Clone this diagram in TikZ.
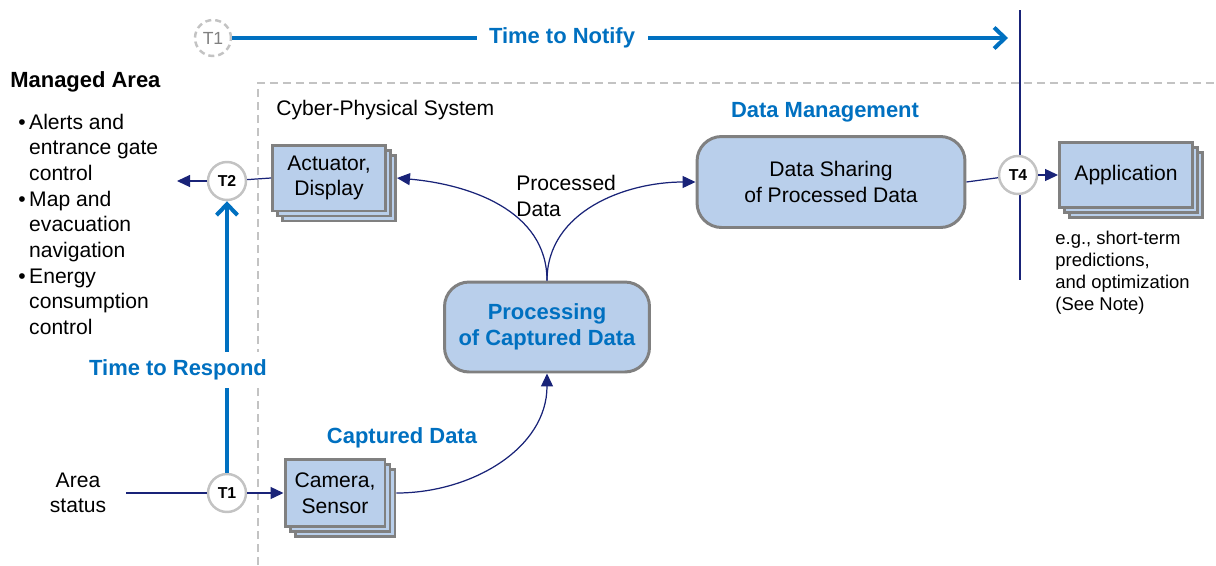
\documentclass[tikz,border=0pt]{standalone}
\usepackage{fontspec}
\setmainfont{Liberation Sans}
\usetikzlibrary{arrows.meta}
\usetikzlibrary{shadows}
\usetikzlibrary{positioning}
\definecolor{boxblue}{RGB}{185,207,235}
\definecolor{boxgray}{RGB}{128,128,128}
\definecolor{ringgray}{RGB}{195,195,195}
\definecolor{navy}{RGB}{25,35,120}
\definecolor{tblue}{RGB}{0,112,192}
\newcommand{\txt}{\fontsize{12}{14.6}\selectfont}
\tikzset{stack/.style={rectangle, fill=boxblue, draw=boxgray, line width=1.7pt,
   copy shadow={shadow xshift=0.2cm, shadow yshift=-0.2cm, fill=boxblue, draw=boxgray, line width=1.7pt},
   copy shadow={shadow xshift=0.1cm, shadow yshift=-0.1cm, fill=boxblue, draw=boxgray, line width=1.7pt},
   align=center, font=\txt, inner sep=0pt}}
\tikzset{rbox/.style={rectangle, rounded corners=14pt, fill=boxblue, draw=boxgray,
   line width=1.7pt, align=center, font=\txt, inner sep=0pt}}
\tikzset{tcirc/.style={circle, draw=ringgray, fill=white, line width=1.4pt,
   minimum size=0.76cm, inner sep=0pt, font=\bfseries\fontsize{9}{10}\selectfont}}
\tikzset{head/.style={text=tblue, font=\bfseries\fontsize{12.5}{14.6}\selectfont}}
\tikzset{flow/.style={draw=navy, line width=0.7pt, -{Triangle[length=0.26cm, width=0.24cm]}}}
\tikzset{timing/.style={draw=tblue, line width=2.3pt, -{Straight Barb[length=0.22cm, width=0.42cm]}}}

\begin{document}
\begin{tikzpicture}[x=0.02cm, y=-0.02cm]

    \useasboundingbox (0,0) rectangle (1216,565);

    % system border
    \draw[ringgray, line width=1.2pt, dash pattern=on 0.16cm off 0.1cm]
      (258,565) -- (258,83) -- (1216,83);
    \node[anchor=west, font=\txt, inner sep=0pt] (cps) at (276,110) {Cyber-Physical System};

    % managed area
    \node[anchor=west, font=\bfseries\fontsize{12.5}{14.6}\selectfont, inner sep=0pt] (ma) at (10,82) {Managed Area};
    \node[anchor=north west, font=\txt, inner sep=0pt] (ml) at (18,111) {%
      \begin{tabular}{@{}l@{\hspace{2pt}}l@{}}
        \textbullet & Alerts and\\ & entrance gate\\ & control\\
        \textbullet & Map and\\ & evacuation\\ & navigation\\
        \textbullet & Energy\\ & consumption\\ & control
      \end{tabular}};

    % boxes
    \node[stack, minimum width=2.26cm, minimum height=1.32cm] (act) at (329,178) {Actuator,\\Display};
    \node[stack, minimum width=2cm, minimum height=1.34cm] (cam) at (335,493) {Camera,\\Sensor};
    \node[rbox, minimum width=4.1cm, minimum height=1.8cm, text=tblue,
      font=\bfseries\fontsize{12.5}{15}\selectfont] (proc) at (547,327) {Processing\\of Captured Data};
    \node[rbox, minimum width=5.36cm, minimum height=1.82cm] (ds) at (831,182) {Data Sharing\\of Processed Data};
    \node[stack, minimum width=2.66cm, minimum height=1.3cm] (app) at (1126,175) {Application};

    \node[head] (cd) at (402,438) {Captured Data};
    \node[head] (dm) at (825,112) {Data Management};
    \node[anchor=north west, align=left, font=\txt, inner sep=0pt] (pd) at (516,175) {Processed\\Data};
    \node[anchor=north west, align=left, font=\fontsize{10.5}{12.5}\selectfont, inner sep=0pt] (note) at (1055,231)
      {e.g., short-term\\predictions,\\and optimization\\(See Note)};
    \node[align=center, font=\txt, inner sep=0pt] (as) at (78,493) {Area\\status};

    % time stamps
    \coordinate (vt) at (1020,10);
    \coordinate (vb) at (1020,280);
    \draw[navy, line width=0.7pt] (vt) -- (vb);
    \node[tcirc] (t2) at (227,181) {T2};
    \node[tcirc] (t1) at (227,493) {T1};
    \node[tcirc] (t4) at (1018,175) {T4};
    \node[tcirc, minimum size=0.72cm, dash pattern=on 0.12cm off 0.08cm, text=gray,
      font=\fontsize{10}{12}\selectfont] (t1n) at (213,38) {T1};

    % flows
    \coordinate (ma-in) at (177,181);
    \coordinate (as-out) at (126,493);
    \draw[flow] (t2) -- (ma-in);
    \draw[navy, line width=0.7pt] (act.west) -- (t2);
    \draw[navy, line width=0.7pt] (as-out) -- (t1);
    \draw[flow] (t1) -- (cam.west);
    \draw[flow] ([xshift=0.2cm]cam.east) to[out=0, in=-90] (proc.south);
    \draw[flow] (proc.north) to[out=90, in=-5] ([xshift=0.2cm]act.east);
    \draw[flow] (proc.north) to[out=90, in=180] (ds.west);
    \draw[navy, line width=0.7pt] (ds.east) -- (t4);
    \draw[flow] (t4) -- (app.west);

    % response and notify times
    \coordinate (ne) at (1008,38);
    \draw[timing] (t1n) -- (ne);
    \node[head, fill=white, inner xsep=0.25cm] (tn) at (562,38) {Time to Notify};
    \draw[timing] (t1) -- (t2);
    \node[head, fill=white, inner ysep=0.15cm] (tr) at (178,370) {Time to Respond};

  \end{tikzpicture}
\end{document}
